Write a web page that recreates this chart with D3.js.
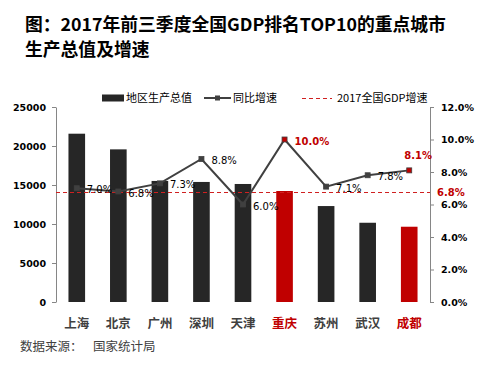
<!DOCTYPE html>
<html>
<head>
<meta charset="utf-8">
<script src="https://cdn.jsdelivr.net/npm/d3@7"></script>
<style>
  body { margin: 0; background: #fff; }
  svg { display: block; }
  .axis path, .axis line { stroke: #868686; }
  .axis text { font-family: 'DejaVu Sans', sans-serif; font-size: 9.5px; font-weight: bold; fill: #000; }
</style>
</head>
<body>
<div class="chart"></div>
<script>
const cities = ['上海', '北京', '广州', '深圳', '天津', '重庆', '苏州', '武汉', '成都']
const gdp = [21577, 19569, 15520, 15390, 15130, 14230, 12300, 10160, 9650]
const growth = [7.0, 6.8, 7.3, 8.8, 6.0, 10.0, 7.1, 7.8, 8.1]
const highlight = ['重庆', '成都']
const nationalGrowth = 6.8
const leftTicks = [0, 5000, 10000, 15000, 20000, 25000]
const rightTicks = [0, 2, 4, 6, 8, 10, 12]
const legendLabels = ['地区生产总值', '同比增速', '2017全国GDP增速']
const titleLines = ['图：2017年前三季度全国GDP排名TOP10的重点城市', '生产总值及增速']
const sourceLabel = '数据来源：'
const sourceName = '国家统计局'

const W = 504
const H = 365
const plot = { left: 56, right: 430, top: 107, bottom: 302 }
const cjk = "'Noto Sans CJK SC', sans-serif"
const num = "'DejaVu Sans', sans-serif"
const dark = '#262626'
const lineColor = '#404040'
const red = '#c00000'

const svg = d3.select('.chart')
  .append('svg')
  .attr('width', W)
  .attr('height', H)

const xScale = d3.scaleBand()
  .domain(cities)
  .range([plot.left, plot.right])
  .paddingInner(0.6)
  .paddingOuter(0.3)
const yLeft = d3.scaleLinear()
  .domain([0, 25000])
  .range([plot.bottom, plot.top])
const yRight = d3.scaleLinear()
  .domain([0, 12])
  .range([plot.bottom, plot.top])
const cx = c => xScale(c) + xScale.bandwidth() / 2
const isRed = c => highlight.includes(c)

// title
svg.append('g')
  .selectAll('text')
  .data(titleLines)
  .join('text')
  .attr('x', 25)
  .attr('y', (d, i) => 31 + i * 25)
  .attr('font-family', cjk)
  .attr('font-weight', 'bold')
  .attr('font-size', 17.8)
  .attr('fill', '#000')
  .text(d => d)

// axes
svg.append('g')
  .attr('class', 'axis')
  .attr('transform', `translate(${plot.left},0)`)
  .call(d3.axisLeft(yLeft).tickValues(leftTicks).tickSize(4).tickSizeOuter(0).tickPadding(6).tickFormat(d3.format('d')))

svg.append('g')
  .attr('class', 'axis')
  .attr('transform', `translate(${plot.right},0)`)
  .call(d3.axisRight(yRight).tickValues(rightTicks).tickSize(4).tickSizeOuter(0).tickPadding(7).tickFormat(d => d.toFixed(1) + '%'))

svg.selectAll('.axis text').attr('dy', '0.35em')

// bars
svg.append('g')
  .selectAll('rect')
  .data(cities)
  .join('rect')
  .attr('x', d => xScale(d))
  .attr('width', xScale.bandwidth())
  .attr('y', (d, i) => yLeft(gdp[i]))
  .attr('height', (d, i) => yLeft(0) - yLeft(gdp[i]))
  .attr('fill', d => isRed(d) ? red : dark)

// category labels
svg.append('g')
  .selectAll('text')
  .data(cities)
  .join('text')
  .attr('x', d => cx(d))
  .attr('y', 328)
  .attr('text-anchor', 'middle')
  .attr('font-family', cjk)
  .attr('font-weight', 'bold')
  .attr('font-size', 12.5)
  .attr('fill', d => isRed(d) ? red : lineColor)
  .text(d => d)

// national growth reference line
const refY = Math.round(yRight(nationalGrowth)) + 0.5
svg.append('line')
  .attr('x1', plot.left)
  .attr('x2', plot.right)
  .attr('y1', refY)
  .attr('y2', refY)
  .attr('stroke', '#d02020')
  .attr('stroke-dasharray', '4,3')
  .attr('stroke-width', 1)

svg.append('text')
  .attr('x', plot.right + 7)
  .attr('y', yRight(nationalGrowth) + 4.5)
  .attr('font-family', num)
  .attr('font-weight', 'bold')
  .attr('font-size', 10)
  .attr('fill', red)
  .text(nationalGrowth.toFixed(1) + '%')

// growth line
const line = d3.line()
  .x((d, i) => cx(cities[i]))
  .y(d => yRight(d))

svg.append('path')
  .datum(growth)
  .attr('d', line)
  .attr('fill', 'none')
  .attr('stroke', lineColor)
  .attr('stroke-width', 2)

svg.append('g')
  .selectAll('rect')
  .data(growth)
  .join('rect')
  .attr('x', (d, i) => cx(cities[i]) - 2.5)
  .attr('y', d => yRight(d) - 2.5)
  .attr('width', 5)
  .attr('height', 5)
  .attr('fill', (d, i) => isRed(cities[i]) ? red : lineColor)
  .attr('stroke', lineColor)
  .attr('stroke-width', 0.8)

const last = growth.length - 1
svg.append('g')
  .selectAll('text')
  .data(growth)
  .join('text')
  .attr('x', (d, i) => cx(cities[i]) + (i === last ? 9 : 10))
  .attr('y', (d, i) => yRight(d) + (i === last ? -11 : 5))
  .attr('text-anchor', (d, i) => i === last ? 'middle' : 'start')
  .attr('font-family', num)
  .attr('font-size', 10)
  .attr('font-weight', (d, i) => isRed(cities[i]) ? 'bold' : 'normal')
  .attr('fill', (d, i) => isRed(cities[i]) ? red : '#000')
  .text(d => d.toFixed(1) + '%')

// legend
const legend = svg.append('g')
  .attr('font-family', cjk)
  .attr('font-size', 11)
  .attr('fill', '#000')
const ly = 98

legend.append('rect')
  .attr('x', 102).attr('y', ly - 3.5)
  .attr('width', 22).attr('height', 7)
  .attr('fill', dark)
legend.append('text')
  .attr('x', 126).attr('y', ly + 4)
  .text(legendLabels[0])

legend.append('line')
  .attr('x1', 204).attr('x2', 231)
  .attr('y1', ly).attr('y2', ly)
  .attr('stroke', lineColor).attr('stroke-width', 2)
legend.append('rect')
  .attr('x', 215).attr('y', ly - 2.5)
  .attr('width', 5).attr('height', 5)
  .attr('fill', lineColor)
legend.append('text')
  .attr('x', 233).attr('y', ly + 4)
  .text(legendLabels[1])

legend.append('line')
  .attr('x1', 302).attr('x2', 332)
  .attr('y1', ly + 0.5).attr('y2', ly + 0.5)
  .attr('stroke', '#d02020').attr('stroke-dasharray', '4,3')
legend.append('text')
  .attr('x', 337).attr('y', ly + 4)
  .text(legendLabels[2])

// source
svg.append('text')
  .attr('x', 20).attr('y', 351)
  .attr('font-family', cjk).attr('font-size', 12.5)
  .attr('fill', lineColor)
  .text(sourceLabel)
svg.append('text')
  .attr('x', 93).attr('y', 351)
  .attr('font-family', cjk).attr('font-size', 12.5)
  .attr('fill', lineColor)
  .text(sourceName)
</script>
</body>
</html>
